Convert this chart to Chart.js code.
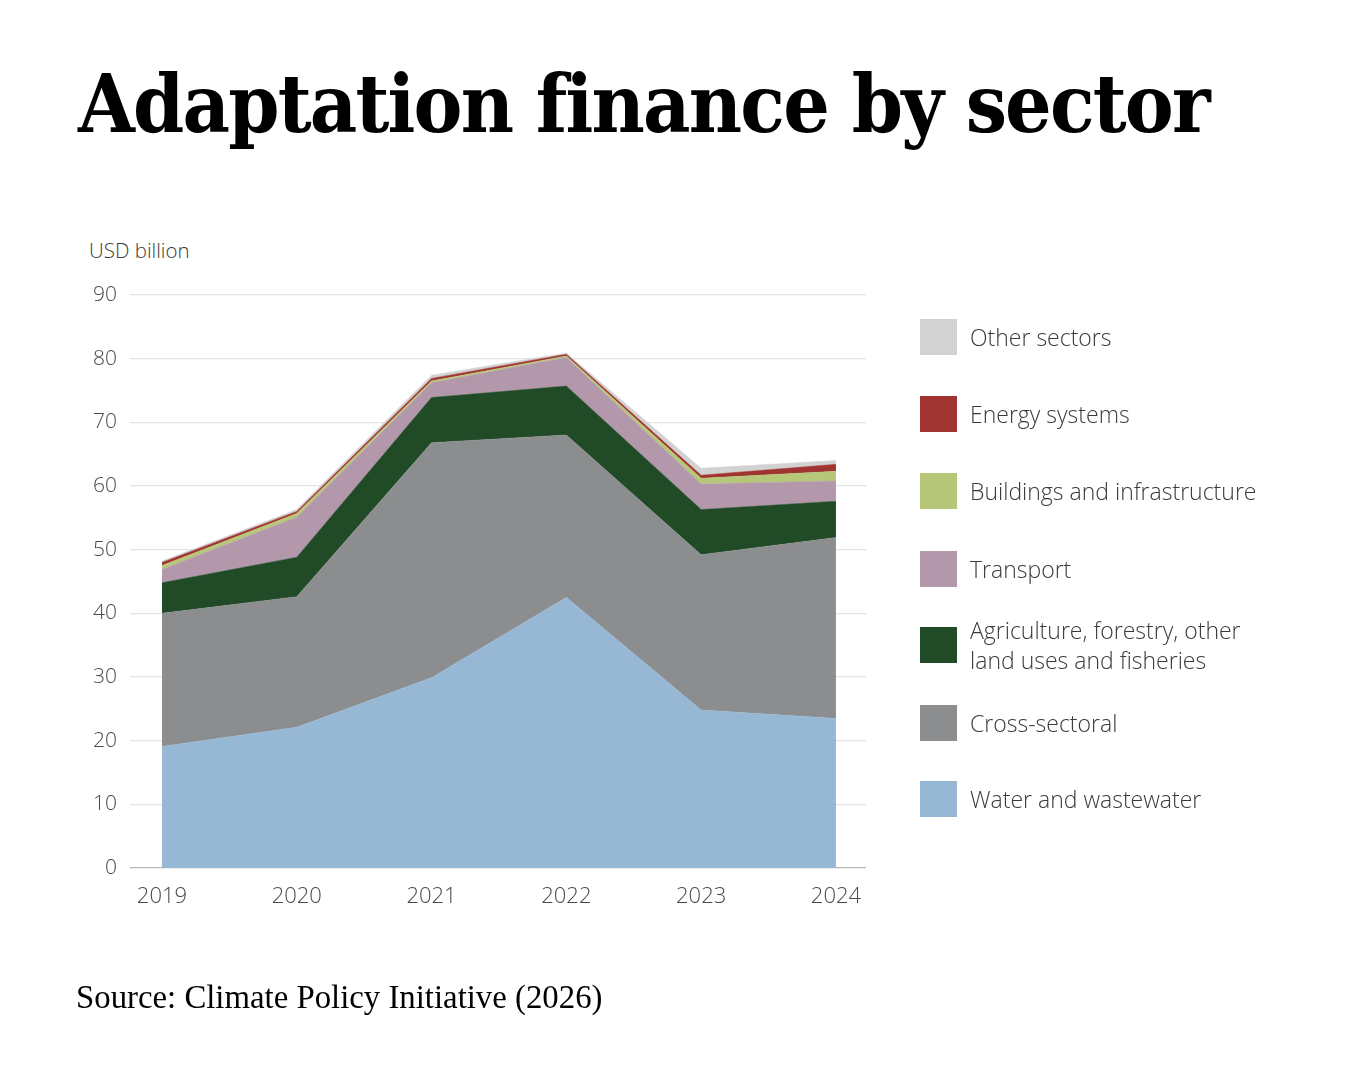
<!DOCTYPE html>
<html>
<head>
<meta charset="utf-8">
<script src="https://cdn.jsdelivr.net/npm/chart.js@4"></script>
<style>
  html, body { margin: 0; padding: 0; background: #fff; }
  body { width: 1350px; height: 1080px; position: relative; overflow: hidden; }
  #title { position: absolute; left: 78px; top: 57px; font-family: "DejaVu Serif", serif; font-weight: bold;
           font-size: 80px; color: #000; letter-spacing: -2px; white-space: nowrap;
           transform: scaleX(0.917); transform-origin: left top; }
  #unit { position: absolute; left: 89px; top: 236px; font-family: "Open Sans", sans-serif; font-weight: 300;
          font-size: 20.5px; color: #3a3a3a; }
  #source { position: absolute; left: 76px; top: 979px; font-family: "Liberation Serif", serif;
            font-size: 32.8px; color: #000; }
  #wrap { position: absolute; left: 0; top: 0; width: 1350px; height: 1080px; }
  #legend { position: absolute; left: 920px; top: 0; font-family: "Open Sans", sans-serif; font-weight: 300;
            font-size: 23px; color: #3a3a3a; }
  .item { position: absolute; left: 0; width: 420px; }
  .sw { position: absolute; left: 0; width: 37px; height: 36px; }
  .lb { position: absolute; left: 50px; line-height: 30px; white-space: nowrap; }
</style>
</head>
<body>
<div id="title">Adaptation finance by sector</div>
<div id="unit">USD billion</div>
<div id="wrap"><canvas id="c" width="1350" height="1080"></canvas></div>
<div id="legend"></div>
<div id="source">Source: Climate Policy Initiative (2026)</div>
<script>
// values, USD billion per year
const years = [2019, 2020, 2021, 2022, 2023, 2024];
const water = [19.1, 22.1, 29.9, 42.5, 24.8, 23.5];
const crossSectoral = [20.9, 20.5, 36.9, 25.5, 24.4, 28.4];
const agriculture = [4.8, 6.2, 7.1, 7.7, 7.1, 5.7];
const transport = [2.1, 6.3, 2.3, 4.5, 4.0, 3.2];
const buildings = [0.6, 0.6, 0.3, 0.2, 0.9, 1.5];
const energy = [0.5, 0.3, 0.4, 0.3, 0.5, 1.1];
const other = [0.2, 0.3, 0.5, 0.2, 1.1, 0.6];
const yTicks = [0, 10, 20, 30, 40, 50, 60, 70, 80, 90];

const series = [
  { label: "Water and wastewater", data: water, color: "#96b8d4" },
  { label: "Cross-sectoral", data: crossSectoral, color: "#8c8d8e" },
  { label: "Agriculture, forestry, other\nland uses and fisheries", data: agriculture, color: "#214b27" },
  { label: "Transport", data: transport, color: "#b398ab" },
  { label: "Buildings and infrastructure", data: buildings, color: "#b7c77a" },
  { label: "Energy systems", data: energy, color: "#a03430" },
  { label: "Other sectors", data: other, color: "#d3d2d3" },
];

// legend (top to bottom, reverse of stacking)
const legendTops = { "Other sectors": 319, "Energy systems": 396, "Buildings and infrastructure": 473,
  "Transport": 551, "Agriculture, forestry, other\nland uses and fisheries": 627, "Cross-sectoral": 705,
  "Water and wastewater": 781 };
const lg = document.getElementById("legend");
series.slice().reverse().forEach((s) => {
  const top = legendTops[s.label];
  const lines = s.label.split("\n");
  const it = document.createElement("div");
  it.className = "item";
  it.style.top = top + "px";
  it.innerHTML = `<div class="sw" style="background:${s.color}"></div>` +
    `<div class="lb" style="top:${lines.length > 1 ? -12 : 3}px">${lines.join("<br>")}</div>`;
  lg.appendChild(it);
});

new Chart(document.getElementById("c"), {
  type: "line",
  data: {
    datasets: series.map((s, i) => ({
      label: s.label,
      data: years.map((yr, j) => ({ x: yr, y: s.data[j] })),
      backgroundColor: s.color,
      borderColor: s.color,
      borderWidth: 0.5,
      pointRadius: 0,
      tension: 0,
      fill: i === 0 ? "origin" : "-1",
    })),
  },
  options: {
    responsive: false, animation: false,
    layout: { padding: { left: 60, right: 484, top: 295, bottom: 162 } },
    plugins: { legend: { display: false }, tooltip: { enabled: false } },
    scales: {
      x: {
        type: "linear", min: 2018.763, max: 2024.223,
        afterBuildTicks: (sc) => { sc.ticks = years.map((v) => ({ value: v })); },
        afterFit: (sc) => { sc.height = 50; },
        grid: { display: false }, border: { display: false },
        ticks: { callback: (v) => String(v), color: "#4a4a4a", padding: 8,
                 font: { family: "Open Sans", weight: 300, size: 22 } },
      },
      y: {
        stacked: true, min: 0, max: 90,
        afterBuildTicks: (sc) => { sc.ticks = yTicks.map((v) => ({ value: v })); },
        afterFit: (sc) => { sc.width = 70; },
        border: { display: false },
        grid: { drawTicks: false, lineWidth: 1.2,
                color: (c) => (c.tick && c.tick.value === 0 ? "#b5b5b5" : "#e4e4e4") },
        ticks: { color: "#4a4a4a", padding: 13, font: { family: "Open Sans", weight: 300, size: 21 } },
      },
    },
  },
});
</script>
</body>
</html>
